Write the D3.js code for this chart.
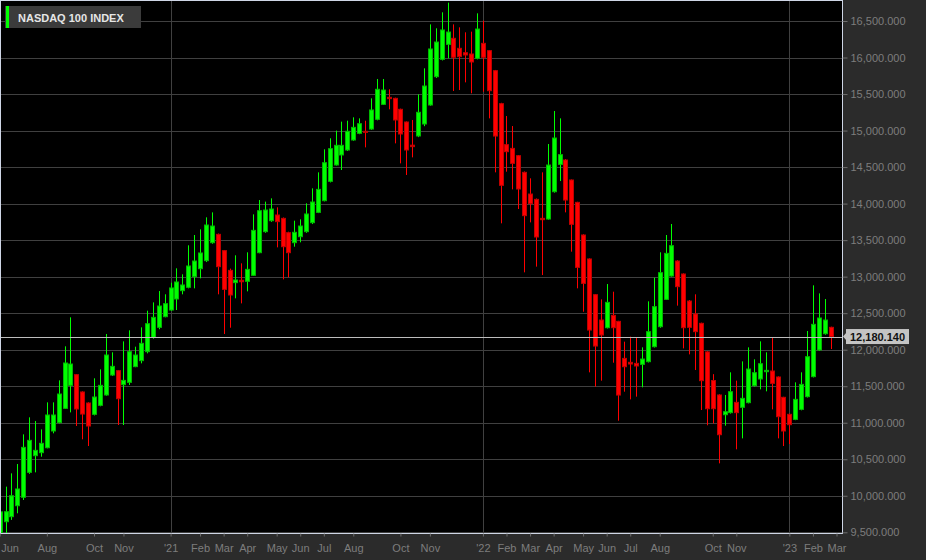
<!DOCTYPE html>
<html>
<head>
<meta charset="utf-8">
<script src="https://cdn.jsdelivr.net/npm/d3@7"></script>
<style>
  html, body { margin: 0; padding: 0; background: #2b2b2b; }
  svg { display: block; }
  text { font-family: "Liberation Sans", Arial, sans-serif; }
</style>
</head>
<body>
<svg id="chart" width="926" height="560"></svg>
<script>
// ---- data (weekly candles, NASDAQ 100) ----
const firstWeek = "2020-06-12";
const weekCount = 143; // includes the empty current week (Mar 3, 2023)

const open = [
  9490, 9645, 9714, 9864, 9979, 10321, 10549, 10590, 10658, 10887,
  11001, 11197, 11512, 11658, 11421, 11270, 11115, 11238, 11380, 11653,
  11713, 11521, 11553, 11768, 11850, 11973, 12169, 12306, 12452, 12543,
  12694, 12808, 12854, 13000, 13109, 13219, 13465, 13579, 13356, 13086,
  12918, 12950, 12936, 13018, 13328, 13616, 13766, 13844, 13798, 13602,
  13465, 13547, 13616, 13739, 13880, 14040, 14305, 14529, 14666, 14734,
  14871, 14962, 14990, 15021, 15154, 15359, 15455, 15441, 15291, 15117,
  14800, 14926, 15090, 15350, 15738, 15975, 16180, 16263, 16126, 16066,
  16048, 15989, 16194, 16094, 15820, 15368, 14807, 14756, 14656, 14428,
  14131, 14058, 13798, 13789, 14163, 14537, 14597, 14323, 14017, 13570,
  13242, 12753, 12406, 12301, 12470, 12388, 11881, 11827, 11813, 11799,
  11836, 12041, 12315, 12689, 13009, 13214, 13036, 12666, 12489, 12361,
  11970, 11578, 11380, 11110, 11138, 11279, 11211, 11275, 11507, 11599,
  11699, 11708, 11626, 11348, 11115, 11046, 11183, 11357, 11631, 11996,
  12219, 12306
];
const high = [
  10005, 10125, 10307, 10435, 10841, 11074, 11024, 10909, 11279, 11279,
  11580, 12046, 12443, 11667, 11430, 11280, 11608, 11731, 12215, 11964,
  11722, 12114, 12265, 12041, 12306, 12534, 12648, 12803, 12758, 12917,
  13114, 13032, 13429, 13570, 13648, 13812, 13880, 13590, 13365, 13110,
  13292, 13182, 13333, 13853, 14049, 14027, 14072, 13949, 13810, 13615,
  13766, 13785, 14004, 14209, 14428, 14743, 14894, 14999, 15122, 15135,
  15181, 15167, 15135, 15441, 15706, 15706, 15565, 15450, 15300, 15125,
  15145, 15496, 15852, 16454, 16400, 16619, 16751, 16454, 16413, 16345,
  16354, 16605, 16505, 16100, 15830, 15380, 15199, 15062, 14665, 14440,
  14346, 14070, 14428, 14816, 15268, 15167, 14610, 14330, 14025, 13580,
  13250, 12760, 12689, 12899, 12794, 12395, 12110, 12178, 12169, 12032,
  12662, 12986, 13333, 13570, 13721, 13225, 13045, 12680, 12758, 12370,
  11980, 11665, 11390, 11380, 11690, 11576, 11840, 12032, 11868, 12114,
  11964, 12169, 11635, 11355, 11125, 11553, 11690, 12256, 12881, 12771,
  12694, 12315
];
const low = [
  9470, 9486, 9670, 9760, 9942, 10300, 10321, 10535, 10649, 10855,
  10990, 11190, 11142, 10955, 10773, 10681, 11100, 11225, 11370, 11640,
  10969, 10969, 11517, 11760, 11813, 11950, 12150, 12280, 12443, 12530,
  12543, 12758, 12840, 12840, 12977, 13200, 13450, 12758, 12215, 12301,
  12703, 12634, 12799, 13010, 13320, 13600, 13750, 13401, 12963, 12990,
  13410, 13470, 13600, 13720, 13870, 14030, 14290, 14520, 14460, 14720,
  14860, 14950, 14770, 15010, 15140, 15350, 15291, 14825, 14551, 14392,
  14633, 14910, 15060, 15340, 15720, 15960, 15989, 15542, 15555, 15660,
  15510, 15975, 15532, 15167, 14428, 13730, 14437, 14195, 13926, 13059,
  13743, 13137, 13022, 13780, 14150, 14309, 13880, 13342, 12840, 12520,
  11690, 11494, 11576, 12290, 11822, 11028, 11425, 11320, 11357, 11485,
  11825, 12030, 12300, 12680, 13000, 12603, 12018, 11936, 11722, 11174,
  10965, 10990, 10444, 10960, 11125, 10636, 10786, 11265, 11495, 11457,
  11430, 11183, 10786, 10681, 10709, 11035, 11170, 11345, 11620, 11985,
  12205, 12009
];
const close = [
  9780, 9782, 10001, 10093, 10663, 10759, 10622, 10718, 11106, 11106,
  11393, 11818, 11804, 11188, 11119, 10955, 11352, 11512, 11927, 11772,
  11329, 11580, 11973, 11927, 12087, 12356, 12443, 12598, 12630, 12845,
  12927, 12886, 13146, 13214, 13324, 13707, 13693, 13137, 12826, 12749,
  12954, 12930, 13100, 13634, 13903, 13912, 13926, 13753, 13410, 13328,
  13607, 13693, 13858, 14022, 14195, 14560, 14752, 14798, 14798, 14990,
  15044, 15094, 14975, 15282, 15565, 15555, 15437, 15145, 14953, 14734,
  14780, 15250, 15610, 16117, 16212, 16377, 16349, 16003, 16012, 16035,
  15939, 16390, 16003, 15546, 14925, 14250, 14711, 14551, 14200, 13835,
  13999, 13543, 13780, 14528, 14898, 14670, 14049, 13716, 13127, 12908,
  12269, 12050, 12201, 12648, 12301, 11379, 11767, 11804, 11777, 11872,
  12247, 12589, 13054, 13319, 13424, 12863, 12301, 12306, 12247, 11576,
  11192, 11192, 10836, 11151, 11425, 11138, 11334, 11735, 11685, 11808,
  11717, 11539, 11083, 10887, 10973, 11320, 11525, 11904, 12347, 12434,
  12406, 12180.14
];

const tickDates = [
  "2020-06-12", "2020-08-07", "2020-10-02", "2020-11-06",
  "2021-01-01", "2021-02-05", "2021-03-05", "2021-04-02", "2021-05-07",
  "2021-06-04", "2021-07-02", "2021-08-06", "2021-10-01", "2021-11-05",
  "2022-01-07", "2022-02-04", "2022-03-04", "2022-04-01", "2022-05-06",
  "2022-06-03", "2022-07-01", "2022-08-05", "2022-10-07", "2022-11-04",
  "2023-01-06", "2023-02-03", "2023-03-03"
];
const tickLabels = [
  "Jun", "Aug", "Oct", "Nov",
  "'21", "Feb", "Mar", "Apr", "May",
  "Jun", "Jul", "Aug", "Oct", "Nov",
  "'22", "Feb", "Mar", "Apr", "May",
  "Jun", "Jul", "Aug", "Oct", "Nov",
  "'23", "Feb", "Mar"
];
const yearLineDates = ["2021-01-01", "2022-01-07", "2023-01-06"];
const priceTicks = [9500, 10000, 10500, 11000, 11500, 12000, 12500, 13000,
                    13500, 14000, 14500, 15000, 15500, 16000, 16500];
const title = "NASDAQ 100 INDEX";
const lastPrice = 12180.14;

// ---- build ----
const parse = d3.timeParse("%Y-%m-%d");
const start = parse(firstWeek);
const weeks = d3.range(weekCount).map(i => d3.timeDay.offset(start, 7 * i));
const candles = open.map((o, i) => ({
  date: weeks[i], o, h: high[i], l: low[i], c: close[i]
}));

const W = 926, H = 560;
const plotW = 842, plotH = 533;

const svg = d3.select("#chart");

const x = d3.scaleTime()
  .domain([weeks[0], weeks[weekCount - 1]])
  .range([-0.3, 836.5]);
const y = d3.scaleLinear()
  .domain([9500, 16500])
  .range([532.3, 21]);

svg.append("rect").attr("width", W).attr("height", H).attr("fill", "#2b2b2b");

svg.append("defs").append("clipPath").attr("id", "plotclip")
  .append("rect").attr("x", 0).attr("y", 0).attr("width", plotW).attr("height", plotH);

const plot = svg.append("g").attr("clip-path", "url(#plotclip)");
plot.append("rect").attr("width", plotW).attr("height", plotH).attr("fill", "#000");

// grid
plot.append("g").selectAll("line").data(priceTicks).join("line")
  .attr("x1", 0).attr("x2", plotW)
  .attr("y1", d => Math.round(y(d)) + 0.5).attr("y2", d => Math.round(y(d)) + 0.5)
  .attr("stroke", "#404040").attr("stroke-width", 1);
plot.append("g").selectAll("line").data(yearLineDates.map(parse)).join("line")
  .attr("y1", 0).attr("y2", plotH)
  .attr("x1", d => Math.round(x(d)) + 0.5).attr("x2", d => Math.round(x(d)) + 0.5)
  .attr("stroke", "#404040").attr("stroke-width", 1);

// candles
const up = d => d.c >= d.o;
const gC = plot.append("g");
const cg = gC.selectAll("g").data(candles).join("g");
cg.append("line")
  .attr("x1", d => Math.round(x(d.date)) + 0.5)
  .attr("x2", d => Math.round(x(d.date)) + 0.5)
  .attr("y1", d => y(d.h)).attr("y2", d => y(d.l))
  .attr("stroke", d => up(d) ? "#00ff00" : "#ff0000")
  .attr("stroke-width", 1);
cg.append("rect")
  .attr("x", d => Math.round(x(d.date)) - 1.5)
  .attr("width", 4)
  .attr("y", d => y(Math.max(d.o, d.c)))
  .attr("height", d => Math.max(1, y(Math.min(d.o, d.c)) - y(Math.max(d.o, d.c))))
  .attr("fill", d => up(d) ? "#00ff00" : "#ff0000")
  .attr("stroke", d => up(d) ? "#00b800" : "#c00000")
  .attr("stroke-width", 1);

// last price line
plot.append("line")
  .attr("x1", 0).attr("x2", plotW)
  .attr("y1", Math.round(y(lastPrice)) + 0.5).attr("y2", Math.round(y(lastPrice)) + 0.5)
  .attr("stroke", "#bdbdbd").attr("stroke-width", 1);

// border
svg.append("rect")
  .attr("x", 0.5).attr("y", 0.5).attr("width", plotW).attr("height", plotH)
  .attr("fill", "none").attr("stroke", "#cfd6e6").attr("stroke-width", 1);

// right axis
const yAxis = d3.axisRight(y).tickValues(priceTicks)
  .tickFormat(d3.format(",.3f")).tickSize(5).tickPadding(3);
const gy = svg.append("g").attr("transform", `translate(${plotW + 0.5},0)`).call(yAxis);
gy.select(".domain").remove();
gy.selectAll(".tick line").attr("stroke", "#6e6e6e");
gy.selectAll(".tick text").attr("fill", "#7d7d7d")
  .style("font-size", "11px").style("font-family", "'Liberation Sans', Arial, sans-serif");

// bottom axis
const labelMap = new Map(tickDates.map((d, i) => [+parse(d), tickLabels[i]]));
const xAxis = d3.axisBottom(x).tickValues(tickDates.map(parse))
  .tickFormat(d => labelMap.get(+d)).tickSize(3).tickPadding(7.5);
const gx = svg.append("g").attr("transform", `translate(0,${plotH + 0.5})`).call(xAxis);
gx.select(".domain").remove();
gx.selectAll(".tick line").attr("stroke", "#6e6e6e");
gx.selectAll(".tick text").attr("fill", "#7d7d7d")
  .style("font-size", "11px").style("font-family", "'Liberation Sans', Arial, sans-serif");
gx.selectAll(".tick").filter((d, i) => i === 0).select("text")
  .attr("text-anchor", "start").attr("x", 1);

// title box
const tg = svg.append("g");
tg.append("rect").attr("x", 5).attr("y", 6).attr("width", 136).attr("height", 22)
  .attr("fill", "#3b3b3b");
tg.append("rect").attr("x", 6).attr("y", 6).attr("width", 3).attr("height", 22)
  .attr("fill", "#00ff00");
tg.append("text").attr("x", 18).attr("y", 21.5).text(title)
  .attr("fill", "#e6e6e6").style("font-size", "11px").style("font-weight", "bold");

// last price label
const ly = y(lastPrice);
const lg = svg.append("g");
lg.append("path")
  .attr("d", `M843,${ly} L846.5,${ly - 4} L846.5,${ly + 4} Z`)
  .attr("fill", "#c4c4c4");
lg.append("rect").attr("x", 846).attr("y", ly - 7.5).attr("width", 63).attr("height", 15)
  .attr("fill", "#c4c4c4");
lg.append("text").attr("x", 877.5).attr("y", ly + 4).attr("text-anchor", "middle")
  .text(d3.format(",.3f")(lastPrice))
  .attr("fill", "#111").style("font-size", "11px").style("font-weight", "bold");
</script>
</body>
</html>
